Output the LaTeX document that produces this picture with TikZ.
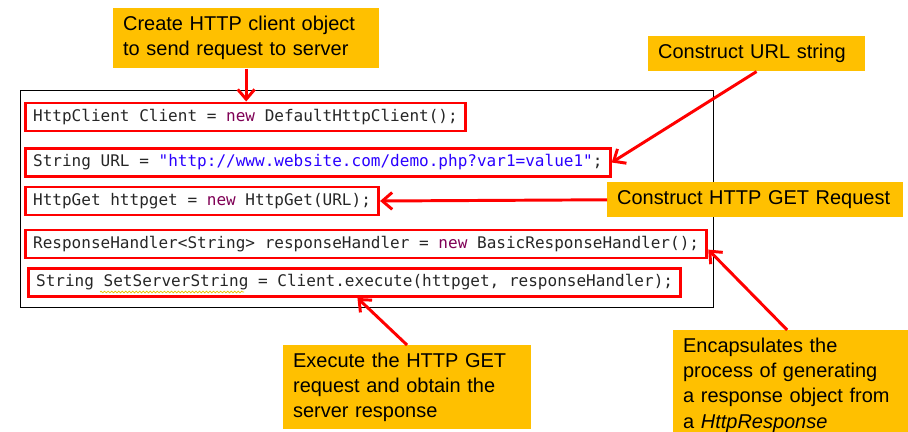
\documentclass[tikz,border=0pt]{standalone}
\usepackage{fontspec}
\setmainfont{Liberation Sans}
\setmonofont{DejaVu Sans Mono}
\usetikzlibrary{arrows.meta,decorations.pathmorphing}

\definecolor{calloutorange}{HTML}{FFC000}
\definecolor{kwpurple}{HTML}{7F0055}
\definecolor{strblue}{HTML}{2A00FF}
\definecolor{squiggle}{HTML}{E8C200}

\newcommand{\javakw}[1]{\textcolor{kwpurple}{#1}}
\newcommand{\javastr}[1]{\textcolor{strblue}{#1}}

\begin{document}
\begin{tikzpicture}[x=0.025cm,y=-0.025cm,
    codeline/.style={draw=red, line width=2pt, anchor=west, minimum height=20pt,
      inner xsep=5.5pt, inner ysep=0pt, text=black!85,
      font=\fontsize{11.4pt}{13pt}\ttfamily},
    callout/.style={fill=calloutorange, anchor=north west, align=left,
      inner xsep=7pt, inner ysep=0pt, font=\fontsize{14.2pt}{17.8pt}\selectfont},
    pointer/.style={draw=red, line width=2.1pt, -{Straight Barb[length=7pt,width=12pt]}}]
    \useasboundingbox (0,0) rectangle (908,432);

    % code panel
    \node[draw, line width=0.8pt, anchor=north west, inner sep=0pt,
      minimum width=17.325cm, minimum height=5.425cm] (panel) at (20,90) {};

    \node[codeline] (line1) at (24,117) {HttpClient Client = \javakw{new} DefaultHttpClient();};
    \node[codeline] (line2) at (24,162.5) {String URL = \javastr{"http://www.website.com/demo.php?var1=value1"};};
    \node[codeline] (line3) at (24,201) {HttpGet httpget = \javakw{new} HttpGet(URL);};
    \node[codeline] (line4) at (24,244) {ResponseHandler<String> responseHandler = \javakw{new} BasicResponseHandler();};
    \node[codeline] (line5) at (27,282.5) {String SetServerString = Client.execute(httpget, responseHandler);};
    \draw[squiggle, line width=0.5pt, decorate,
      decoration={snake, amplitude=0.6pt, segment length=2.5pt}] (100,292) -- (244,292);

    % callouts
    \node[callout, text width=175pt, minimum height=1.5cm] (create) at (113,8)
      {Create HTTP client object\\to send request to server};
    \node[callout, text width=140pt, minimum height=0.875cm] (url) at (648,36)
      {Construct URL string};
    \node[callout, text width=196pt, minimum height=0.875cm] (get) at (607,182)
      {Construct HTTP GET Request};
    \node[callout, text width=162pt, minimum height=2.1cm] (exec) at (283,345)
      {Execute the HTTP GET\\request and obtain the\\server response};
    \node[callout, text width=156pt, minimum height=2.75cm] (encap) at (673,330)
      {Encapsulates the\\process of generating\\a response object from\\a \textit{HttpResponse}};

    % pointers
    \draw[pointer] (create.south) -- (create.south |- line1.north);
    \draw[pointer] (url.south) -- (line2.east);
    \draw[pointer] (get.west) -- (line3.east);
    \draw[pointer] ([xshift=-4pt]encap.north) -- ([yshift=-4pt]line4.east);
    \draw[pointer] (exec.north) -- ([xshift=2pt]line5.south);
\end{tikzpicture}
\end{document}
